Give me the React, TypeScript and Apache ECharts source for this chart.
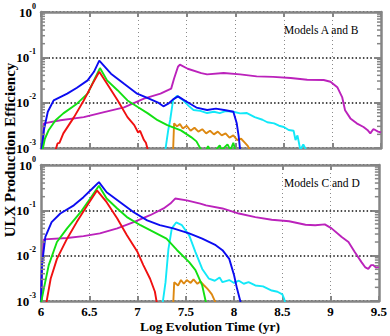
import React, { useEffect, useRef } from "react";
import * as echarts from "echarts";

// ---------- data: [log evolution time (yr), production efficiency] ----------
const xTicks = [6, 6.5, 7, 7.5, 8, 8.5, 9, 9.5];
const panelLabels = ["Models A and B", "Models C and D"];

const redAB: [number, number][] = [
  [6.15, 0.0009], [6.17, 0.00126], [6.19, 0.0013], [6.23, 0.0021], [6.34, 0.0048], [6.44, 0.0112],
  [6.53, 0.026], [6.6, 0.048], [6.68, 0.026], [6.79, 0.0112], [6.89, 0.0048], [6.96, 0.0032],
  [7.0, 0.0022], [7.02, 0.0024], [7.06, 0.0015], [7.08, 0.0013], [7.1, 0.0009],
];
const greenAB: [number, number][] = [
  [6.015, 0.0009], [6.04, 0.0016], [6.08, 0.0025], [6.15, 0.0041], [6.23, 0.0058], [6.37, 0.0095],
  [6.48, 0.0158], [6.545, 0.031], [6.607, 0.058], [6.68, 0.031], [6.79, 0.0186], [6.89, 0.0112],
  [7.0, 0.0079], [7.1, 0.0058], [7.2, 0.0041], [7.3, 0.0032], [7.44, 0.00245], [7.545, 0.00174],
  [7.6, 0.0014], [7.65, 0.0009], [7.7, 0.0009], [7.72, 0.0011], [7.74, 0.0009], [7.8, 0.0009],
  [7.84, 0.00115], [7.86, 0.0009], [7.92, 0.0012], [7.95, 0.0009], [7.98, 0.0013], [8.0, 0.0009],
];
const blueAB: [number, number][] = [
  [6.005, 0.0009], [6.03, 0.0025], [6.07, 0.0063], [6.13, 0.0112], [6.27, 0.0158], [6.37, 0.0214],
  [6.48, 0.031], [6.545, 0.048], [6.6, 0.085], [6.72, 0.0437], [6.855, 0.026], [6.99, 0.0158],
  [7.1, 0.0126], [7.2, 0.0102], [7.26, 0.0083], [7.31, 0.0095], [7.36, 0.0118], [7.41, 0.0138],
  [7.46, 0.0118], [7.5, 0.0105], [7.6, 0.0078], [7.71, 0.0069], [7.8, 0.0074], [7.9, 0.0068],
  [7.98, 0.0063], [8.015, 0.0035], [8.035, 0.0018], [8.05, 0.0009],
];
const magentaAB: [number, number][] = [
  [6.02, 0.0009], [6.03, 0.0035], [6.2, 0.0041], [6.44, 0.0048], [6.65, 0.0062], [6.855, 0.0079],
  [7.06, 0.0123], [7.23, 0.0158], [7.34, 0.0204], [7.37, 0.034], [7.41, 0.062], [7.43, 0.069],
  [7.51, 0.056], [7.65, 0.045], [7.71, 0.042], [7.88, 0.045], [8.05, 0.042], [8.22, 0.038],
  [8.39, 0.037], [8.57, 0.035], [8.74, 0.032], [8.91, 0.0316], [8.98, 0.029], [9.05, 0.022],
  [9.1, 0.0133], [9.13, 0.0068], [9.185, 0.0045], [9.25, 0.0035], [9.32, 0.0029], [9.36, 0.0025],
  [9.39, 0.0021], [9.42, 0.0026], [9.44, 0.0025], [9.47, 0.0023], [9.5, 0.0022],
];
const cyanAB: [number, number][] = [
  [7.28, 0.0009], [7.31, 0.0025], [7.33, 0.0042], [7.36, 0.0115], [7.4, 0.0141], [7.46, 0.0115],
  [7.52, 0.0085], [7.57, 0.0069], [7.64, 0.0066], [7.71, 0.0059], [7.78, 0.0063], [7.84, 0.0059],
  [7.9, 0.0065], [7.98, 0.0063], [8.05, 0.0058], [8.12, 0.0059], [8.2, 0.0048], [8.28, 0.0042],
  [8.33, 0.0037], [8.4, 0.0035], [8.45, 0.0031], [8.5, 0.0029], [8.55, 0.0025], [8.6, 0.0024],
  [8.62, 0.0015], [8.64, 0.0019], [8.67, 0.0009], [8.7, 0.0012], [8.73, 0.0009], [8.77, 0.0009],
];
const orangeAB: [number, number][] = [
  [7.36, 0.0009], [7.37, 0.0035], [7.4, 0.003], [7.43, 0.0034], [7.46, 0.0027], [7.5, 0.0031],
  [7.54, 0.0024], [7.58, 0.0028], [7.62, 0.0023], [7.66, 0.0026], [7.7, 0.0021], [7.74, 0.0024],
  [7.78, 0.002], [7.82, 0.0023], [7.86, 0.0019], [7.9, 0.0021], [7.94, 0.0017], [7.98, 0.0019],
  [8.02, 0.0015], [8.06, 0.0016], [8.1, 0.0013], [8.13, 0.0011], [8.15, 0.0009],
];

const redCD: [number, number][] = [
  [6.055, 0.0009], [6.1, 0.0031], [6.165, 0.0085], [6.27, 0.0237], [6.37, 0.055], [6.48, 0.129],
  [6.58, 0.275], [6.68, 0.151], [6.79, 0.066], [6.89, 0.0282], [7.0, 0.012], [7.06, 0.0062],
  [7.13, 0.0031], [7.18, 0.0016], [7.2, 0.0009],
];
const greenCD: [number, number][] = [
  [6.0, 0.0009], [6.03, 0.0019], [6.08, 0.0062], [6.165, 0.02], [6.27, 0.04], [6.41, 0.091],
  [6.51, 0.182], [6.6, 0.35], [6.68, 0.182], [6.79, 0.11], [6.89, 0.071], [7.03, 0.047],
  [7.17, 0.033], [7.3, 0.0237], [7.41, 0.0132], [7.535, 0.0072], [7.6, 0.0048], [7.67, 0.0022],
  [7.71, 0.0009],
];
const blueCD: [number, number][] = [
  [6.0, 0.0009], [6.01, 0.0062], [6.045, 0.026], [6.11, 0.055], [6.2, 0.085], [6.34, 0.129],
  [6.44, 0.195], [6.53, 0.3], [6.6, 0.42], [6.68, 0.25], [6.82, 0.151], [6.96, 0.091],
  [7.1, 0.06], [7.23, 0.047], [7.37, 0.04], [7.535, 0.031], [7.67, 0.0237], [7.81, 0.017],
  [7.88, 0.0132], [7.95, 0.0085], [8.0, 0.0037], [8.03, 0.0019], [8.07, 0.0009],
];
const magentaCD: [number, number][] = [
  [6.0, 0.0009], [6.01, 0.0062], [6.03, 0.0229], [6.27, 0.0245], [6.44, 0.027], [6.61, 0.031],
  [6.79, 0.04], [6.96, 0.055], [7.13, 0.078], [7.27, 0.11], [7.34, 0.141], [7.39, 0.182],
  [7.51, 0.166], [7.65, 0.141], [7.71, 0.129], [7.88, 0.11], [8.05, 0.085], [8.22, 0.071],
  [8.39, 0.062], [8.57, 0.0575], [8.74, 0.048], [8.84, 0.047], [8.94, 0.049], [9.01, 0.04],
  [9.115, 0.0257], [9.185, 0.02], [9.25, 0.012], [9.32, 0.0072], [9.36, 0.0055], [9.39, 0.0051],
  [9.42, 0.0062], [9.44, 0.0062], [9.47, 0.0055], [9.5, 0.0056],
];
const cyanCD: [number, number][] = [
  [7.26, 0.0009], [7.29, 0.0026], [7.32, 0.014], [7.355, 0.04], [7.4, 0.054], [7.46, 0.047],
  [7.535, 0.028], [7.6, 0.012], [7.67, 0.0051], [7.74, 0.0031], [7.8, 0.0028], [7.85, 0.0033],
  [7.88, 0.0026], [7.95, 0.0029], [8.0, 0.0025], [8.05, 0.0028], [8.1, 0.0024], [8.15, 0.0026],
  [8.22, 0.0022], [8.3, 0.0021], [8.39, 0.0017], [8.45, 0.0016], [8.5, 0.0014], [8.52, 0.0011],
  [8.53, 0.0009],
];
const orangeCD: [number, number][] = [
  [7.37, 0.0009], [7.38, 0.0026], [7.42, 0.0022], [7.45, 0.0029], [7.48, 0.0024], [7.51, 0.0029],
  [7.55, 0.0025], [7.58, 0.003], [7.62, 0.0024], [7.65, 0.0027], [7.69, 0.0022], [7.72, 0.0019],
  [7.74, 0.0017], [7.77, 0.0014], [7.81, 0.0009],
];

const COLORS = {
  red: "#f01010",
  green: "#12e012",
  blue: "#0c0cf0",
  magenta: "#bb22bb",
  cyan: "#12e8f8",
  orange: "#dd8811",
};

const SERIF = "'Liberation Serif', 'DejaVu Serif', serif";
const FRAME = "#858585";

export default function App() {
  const ref = useRef<HTMLDivElement>(null);

  useEffect(() => {
    document.body.style.margin = "0";
    const chart = echarts.init(ref.current!, null, { renderer: "svg" });

    const grids = [
      { left: 41, top: 12, width: 340, height: 136 },
      { left: 41, top: 165, width: 340, height: 136 },
    ];

    const xAxes: any[] = [];
    const yAxes: any[] = [];
    [0, 1].forEach((g) => {
      const common = {
        type: "value",
        gridIndex: g,
        min: 6,
        max: 9.5,
        interval: 0.5,
        axisLine: { show: true, onZero: false, lineStyle: { color: FRAME, width: 2.5 } },
        axisTick: { show: true, inside: true, length: 5, lineStyle: { color: FRAME, width: 2 } },
      };
      xAxes.push({
        ...common,
        position: "bottom",
        axisLabel: {
          show: g === 1,
          margin: 4,
          fontFamily: SERIF,
          fontWeight: "bold",
          fontSize: 13,
          color: "#000",
          formatter: (v: number) => String(v),
        },
        splitLine: { show: true, lineStyle: { color: "#8a8a8a", width: 1, type: [1, 3] } },
        name: g === 1 ? "Log Evolution Time (yr)" : "",
        nameLocation: "middle",
        nameGap: 18,
        nameTextStyle: { fontFamily: SERIF, fontWeight: "bold", fontSize: 13.5, color: "#000" },
      });
      xAxes.push({ ...common, position: "top", axisLabel: { show: false }, splitLine: { show: false } });

      const ycommon = {
        type: "log",
        logBase: 10,
        gridIndex: g,
        min: 0.001,
        max: 1,
        axisLine: { show: true, onZero: false, lineStyle: { color: FRAME, width: 2.5 } },
        axisTick: { show: true, inside: true, length: 7, lineStyle: { color: FRAME, width: 2 } },
      };
      yAxes.push({
        ...ycommon,
        position: "left",
        axisLabel: {
          show: true,
          margin: 5,
          formatter: (v: number) => `{b|10}{s|${Math.round(Math.log10(v))}}`,
          rich: {
            b: { fontFamily: SERIF, fontWeight: "bold", fontSize: 13, color: "#000", lineHeight: 20 },
            s: { fontFamily: SERIF, fontWeight: "bold", fontSize: 8, color: "#000", lineHeight: 9, verticalAlign: "top" },
          },
        },
        splitLine: { show: true, lineStyle: { color: "#111", width: 1.6, type: [1.5, 2.2] } },
      });
      yAxes.push({ ...ycommon, position: "right", axisLabel: { show: false }, splitLine: { show: false } });
    });

    const mk = (data: [number, number][], color: string, g: number, z: number) => ({
      type: "line",
      xAxisIndex: g * 2,
      yAxisIndex: g * 2,
      data,
      showSymbol: false,
      symbol: "none",
      clip: true,
      z,
      lineStyle: { color, width: 1.9 },
    });

    chart.setOption({
      animation: false,
      grid: grids,
      xAxis: xAxes,
      yAxis: yAxes,
      series: [
        mk(magentaAB, COLORS.magenta, 0, 2),
        mk(cyanAB, COLORS.cyan, 0, 3),
        mk(orangeAB, COLORS.orange, 0, 4),
        mk(blueAB, COLORS.blue, 0, 5),
        mk(greenAB, COLORS.green, 0, 6),
        mk(redAB, COLORS.red, 0, 7),
        mk(magentaCD, COLORS.magenta, 1, 2),
        mk(cyanCD, COLORS.cyan, 1, 3),
        mk(orangeCD, COLORS.orange, 1, 4),
        mk(blueCD, COLORS.blue, 1, 5),
        mk(greenCD, COLORS.green, 1, 6),
        mk(redCD, COLORS.red, 1, 7),
      ],
    });

    // minor log ticks (2..9 per decade) positioned via the axis scale
    const graphics: any[] = [];
    [0, 1].forEach((g) => {
      const xl = chart.convertToPixel({ xAxisIndex: g * 2 }, xTicks[0]) as number;
      const xr = chart.convertToPixel({ xAxisIndex: g * 2 }, xTicks[xTicks.length - 1]) as number;
      [-3, -2, -1].forEach((d) => {
        for (let m = 2; m <= 9; m++) {
          const y = chart.convertToPixel({ yAxisIndex: g * 2 }, m * Math.pow(10, d)) as number;
          graphics.push({ type: "line", shape: { x1: xl, y1: y, x2: xl + 4, y2: y }, style: { stroke: FRAME, lineWidth: 1.5 }, z: 10 });
          graphics.push({ type: "line", shape: { x1: xr - 4, y1: y, x2: xr, y2: y }, style: { stroke: FRAME, lineWidth: 1.5 }, z: 10 });
        }
      });
      const yTop = chart.convertToPixel({ yAxisIndex: g * 2 }, 1) as number;
      graphics.push({
        type: "text",
        x: 284,
        y: yTop + 18,
        style: { text: panelLabels[g], font: `11.5px ${SERIF}`, fill: "#000", textVerticalAlign: "middle" },
        z: 10,
      });
    });
    graphics.push({
      type: "text",
      x: 10,
      y: 150,
      rotation: Math.PI / 2,
      style: {
        text: "ULX Production Efficiency",
        font: `bold 15px ${SERIF}`,
        fill: "#000",
        textAlign: "center",
        textVerticalAlign: "middle",
      },
      z: 10,
    });
    chart.setOption({ graphic: graphics });

    return () => chart.dispose();
  }, []);

  return <div ref={ref} style={{ width: 390, height: 336 }} />;
}
